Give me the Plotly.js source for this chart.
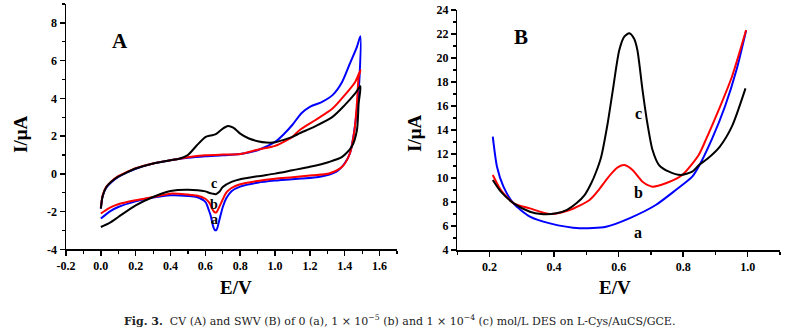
<!DOCTYPE html>
<html>
<head>
<meta charset="utf-8">
<script src="https://cdn.plot.ly/plotly-3.0.1.min.js"></script>
<style>html,body{margin:0;padding:0;background:#fff;}#chart{width:800px;height:334px;}</style>
</head>
<body>
<div id="chart"></div>
<script>
// ---------- Panel A: CV curves (forward branch then reverse branch) ----------
const cvA_x = [0,0.01,0.03,0.06,0.1,0.15,0.2,0.3,0.4,0.5,0.6,0.7,0.8,0.9,1.0,1.05,1.1,1.15,1.2,1.27,1.33,1.385,1.43,1.47,1.49,
               1.485,1.475,1.465,1.45,1.43,1.40,1.35,1.25,1.15,1.0,0.9,0.8,0.75,0.72,0.7,0.68,0.665,0.655,0.645,0.63,0.62,0.6,0.55,0.5,0.4,0.3,0.2,0.1,0.05,0];
const cvA_y = [-1.85,-1.2,-0.75,-0.45,-0.17,0.08,0.27,0.54,0.72,0.85,0.93,0.98,1.05,1.25,1.69,2.1,2.6,3.2,3.55,3.81,4.17,4.87,5.85,6.73,7.29,
               5.14,3.9,3.0,2.0,1.09,0.56,0.1,-0.17,-0.25,-0.36,-0.47,-0.68,-0.92,-1.3,-1.76,-2.46,-2.95,-2.99,-2.8,-2.2,-1.93,-1.49,-1.23,-1.17,-1.14,-1.26,-1.46,-1.76,-2.0,-2.37];

const cvB_x = [0,0.01,0.03,0.06,0.1,0.15,0.2,0.3,0.4,0.5,0.6,0.7,0.8,0.9,1.0,1.1,1.14,1.23,1.33,1.40,1.46,1.49,
               1.48,1.47,1.456,1.43,1.385,1.31,1.215,1.1,1.0,0.9,0.8,0.75,0.72,0.7,0.68,0.665,0.655,0.645,0.63,0.62,0.6,0.55,0.5,0.4,0.3,0.2,0.1,0.05,0];
const cvB_y = [-1.8,-1.15,-0.7,-0.4,-0.12,0.1,0.3,0.55,0.72,0.88,0.98,1.02,1.05,1.28,1.48,1.96,2.31,2.84,3.46,4.17,4.87,5.49,
               5.14,3.73,2.31,1.09,0.37,0.02,-0.08,-0.18,-0.26,-0.38,-0.55,-0.75,-1.0,-1.35,-1.75,-2.02,-2.05,-1.95,-1.65,-1.5,-1.32,-1.15,-1.1,-1.05,-1.23,-1.4,-1.61,-1.8,-2.1];

const cvC_x = [0,0.01,0.03,0.06,0.1,0.15,0.2,0.3,0.4,0.45,0.5,0.55,0.6,0.63,0.66,0.7,0.73,0.76,0.8,0.85,0.9,0.95,1.0,1.05,1.1,1.14,1.23,1.33,1.40,1.46,1.49,
               1.48,1.47,1.44,1.385,1.31,1.2,1.1,1.0,0.9,0.8,0.75,0.7,0.68,0.66,0.64,0.62,0.6,0.5,0.4,0.3,0.2,0.1,0.05,0];
const cvC_y = [-1.85,-1.2,-0.72,-0.42,-0.15,0.08,0.28,0.55,0.72,0.8,1.0,1.5,1.95,2.03,2.1,2.4,2.54,2.45,2.13,1.87,1.73,1.66,1.67,1.8,1.96,2.14,2.52,3.02,3.64,4.26,4.64,
               3.73,2.31,1.43,0.9,0.63,0.37,0.19,0.01,-0.13,-0.29,-0.43,-0.7,-0.95,-1.08,-1.05,-1.0,-0.93,-0.84,-0.91,-1.23,-1.67,-2.29,-2.6,-2.82];

// ---------- Panel B: SWV curves ----------
const swvA_x = [0.21,0.223,0.243,0.274,0.325,0.387,0.479,0.561,0.633,0.715,0.777,0.828,0.849,0.89,0.93,0.965,0.995];
const swvA_y = [13.44,10.94,9.28,7.89,6.78,6.22,5.81,5.94,6.64,7.75,9.0,10.11,11.0,13.3,16.0,19.0,22.3];

const swvB_x = [0.21,0.235,0.275,0.325,0.387,0.448,0.51,0.535,0.561,0.58,0.597,0.618,0.643,0.674,0.705,0.746,0.797,0.848,0.87,0.91,0.951,0.995];
const swvB_y = [10.25,9.0,7.89,7.47,7.0,7.33,8.17,8.9,9.83,10.45,10.89,11.08,10.67,9.69,9.28,9.56,10.25,11.92,13.17,15.67,18.44,22.33];

const swvC_x = [0.21,0.235,0.275,0.325,0.36,0.407,0.44,0.469,0.495,0.515,0.53,0.546,0.566,0.582,0.602,0.618,0.633,0.648,0.658,0.674,0.689,0.705,0.725,0.756,0.792,0.828,0.849,0.875,0.913,0.951,0.993];
const swvC_y = [9.83,8.86,7.89,7.19,7.0,7.06,7.35,7.89,8.6,9.56,10.5,11.78,14.56,17.33,20.67,21.8,22.06,21.6,20.67,17.33,14.56,12.33,11.08,10.53,10.25,10.53,11.08,11.6,12.6,14.3,17.47];

// ---------- Tick labels ----------
const axA_xticks = [-0.2,0,0.2,0.4,0.6,0.8,1.0,1.2,1.4,1.6];
const axA_xlabels = ['-0.2','0.0','0.2','0.4','0.6','0.8','1.0','1.2','1.4','1.6'];
const axA_yticks = [-4,-2,0,2,4,6,8];
const axA_ylabels = ['-4','-2','0','2','4','6','8'];
const axB_xticks = [0.2,0.4,0.6,0.8,1.0];
const axB_xlabels = ['0.2','0.4','0.6','0.8','1.0'];
const axB_yticks = [4,6,8,10,12,14,16,18,20,22,24];
const axB_ylabels = ['4','6','8','10','12','14','16','18','20','22','24'];

const W = 800, H = 334;
const px = x => x / W, py = y => 1 - y / H;
const SERIF = 'Liberation Serif, Times New Roman, serif';
const BLUE = '#0000ff', RED = '#ff0000', BLACK = '#000000';

const lineOpts = (c) => ({color: c, width: 2, shape: 'spline', smoothing: 0.7});

const traces = [
  {x: cvA_x, y: cvA_y, xaxis: 'x', yaxis: 'y', mode: 'lines', line: lineOpts(BLUE)},
  {x: cvB_x, y: cvB_y, xaxis: 'x', yaxis: 'y', mode: 'lines', line: lineOpts(RED)},
  {x: cvC_x, y: cvC_y, xaxis: 'x', yaxis: 'y', mode: 'lines', line: lineOpts(BLACK)},
  {x: swvA_x, y: swvA_y, xaxis: 'x2', yaxis: 'y2', mode: 'lines', line: lineOpts(BLUE)},
  {x: swvB_x, y: swvB_y, xaxis: 'x2', yaxis: 'y2', mode: 'lines', line: lineOpts(RED)},
  {x: swvC_x, y: swvC_y, xaxis: 'x2', yaxis: 'y2', mode: 'lines', line: lineOpts(BLACK)}
];

const tickFont = {family: SERIF, size: 12, color: '#000', weight: 'bold'};
const baseAxis = {
  showgrid: false, zeroline: false, showline: true, linecolor: '#000', linewidth: 1.5,
  ticks: 'outside', ticklen: 5, tickwidth: 1.5, tickcolor: '#000', tickfont: tickFont,
  tickmode: 'array', fixedrange: true
};
const minorX = {dtick: 0.1, tick0: 0, ticks: 'outside', ticklen: 3, tickwidth: 1.2, tickcolor: '#000'};
const minorY = {dtick: 1, tick0: 0, ticks: 'outside', ticklen: 3, tickwidth: 1.2, tickcolor: '#000'};

function ann(text, x, y, size, extra) {
  return Object.assign({text: text, xref: 'paper', yref: 'paper', x: px(x), y: py(y), showarrow: false,
    xanchor: 'center', yanchor: 'middle', font: {family: SERIF, size: size, color: '#000'}}, extra || {});
}
function lab(text, ax, ay, x, y, size) {
  return {text: '<b>' + text + '</b>', xref: ax, yref: ay, x: x, y: y, showarrow: false,
    xanchor: 'center', yanchor: 'middle', font: {family: SERIF, size: size, color: '#000'}};
}

const layout = {
  width: W, height: H,
  margin: {l: 0, r: 0, t: 0, b: 0},
  paper_bgcolor: '#fff', plot_bgcolor: '#fff',
  showlegend: false,
  xaxis: Object.assign({}, baseAxis, {
    domain: [px(66), px(397)], range: [-0.2, 1.7], anchor: 'y',
    tickvals: axA_xticks, ticktext: axA_xlabels, minor: minorX
  }),
  yaxis: Object.assign({}, baseAxis, {
    domain: [py(249.3), py(4)], range: [-4, 9], anchor: 'x',
    tickvals: axA_yticks, ticktext: axA_ylabels, minor: minorY
  }),
  xaxis2: Object.assign({}, baseAxis, {
    domain: [px(457.3), px(780)], range: [0.1, 1.1], anchor: 'y2',
    tickvals: axB_xticks, ticktext: axB_xlabels, minor: minorX
  }),
  yaxis2: Object.assign({}, baseAxis, {
    domain: [py(250), py(10)], range: [4, 24], anchor: 'x2',
    tickvals: axB_yticks, ticktext: axB_ylabels, minor: minorY
  }),
  annotations: [
    ann('<b>A</b>', 120, 41, 21),
    ann('<b>B</b>', 521, 37, 21),
    ann('<b>I/μA</b>', 20, 135, 19, {textangle: -90}),
    ann('<b>E/V</b>', 236, 287, 19),
    ann('<b>I/μA</b>', 414, 133, 19, {textangle: -90}),
    ann('<b>E/V</b>', 615, 287, 19),
    lab('c', 'x', 'y', 0.648, -0.5, 14),
    lab('b', 'x', 'y', 0.648, -1.6, 14),
    lab('a', 'x', 'y', 0.652, -2.4, 14),
    lab('c', 'x2', 'y2', 0.66, 15.4, 16),
    lab('b', 'x2', 'y2', 0.66, 8.8, 16),
    lab('a', 'x2', 'y2', 0.66, 5.45, 16),
    {text: '<b>Fig. 3.</b>  CV (A) and SWV (B) of 0 (a), 1 × 10<sup>−5</sup> (b) and 1 × 10<sup>−4</sup> (c) mol/L DES on L-Cys/AuCS/GCE.',
     xref: 'paper', yref: 'paper', x: px(399), y: py(320), showarrow: false, xanchor: 'center', yanchor: 'middle',
     font: {family: 'DejaVu Serif, serif', size: 11, color: '#222'}}
  ]
};

Plotly.newPlot('chart', traces, layout, {displayModeBar: false, staticPlot: true});
</script>
</body>
</html>
